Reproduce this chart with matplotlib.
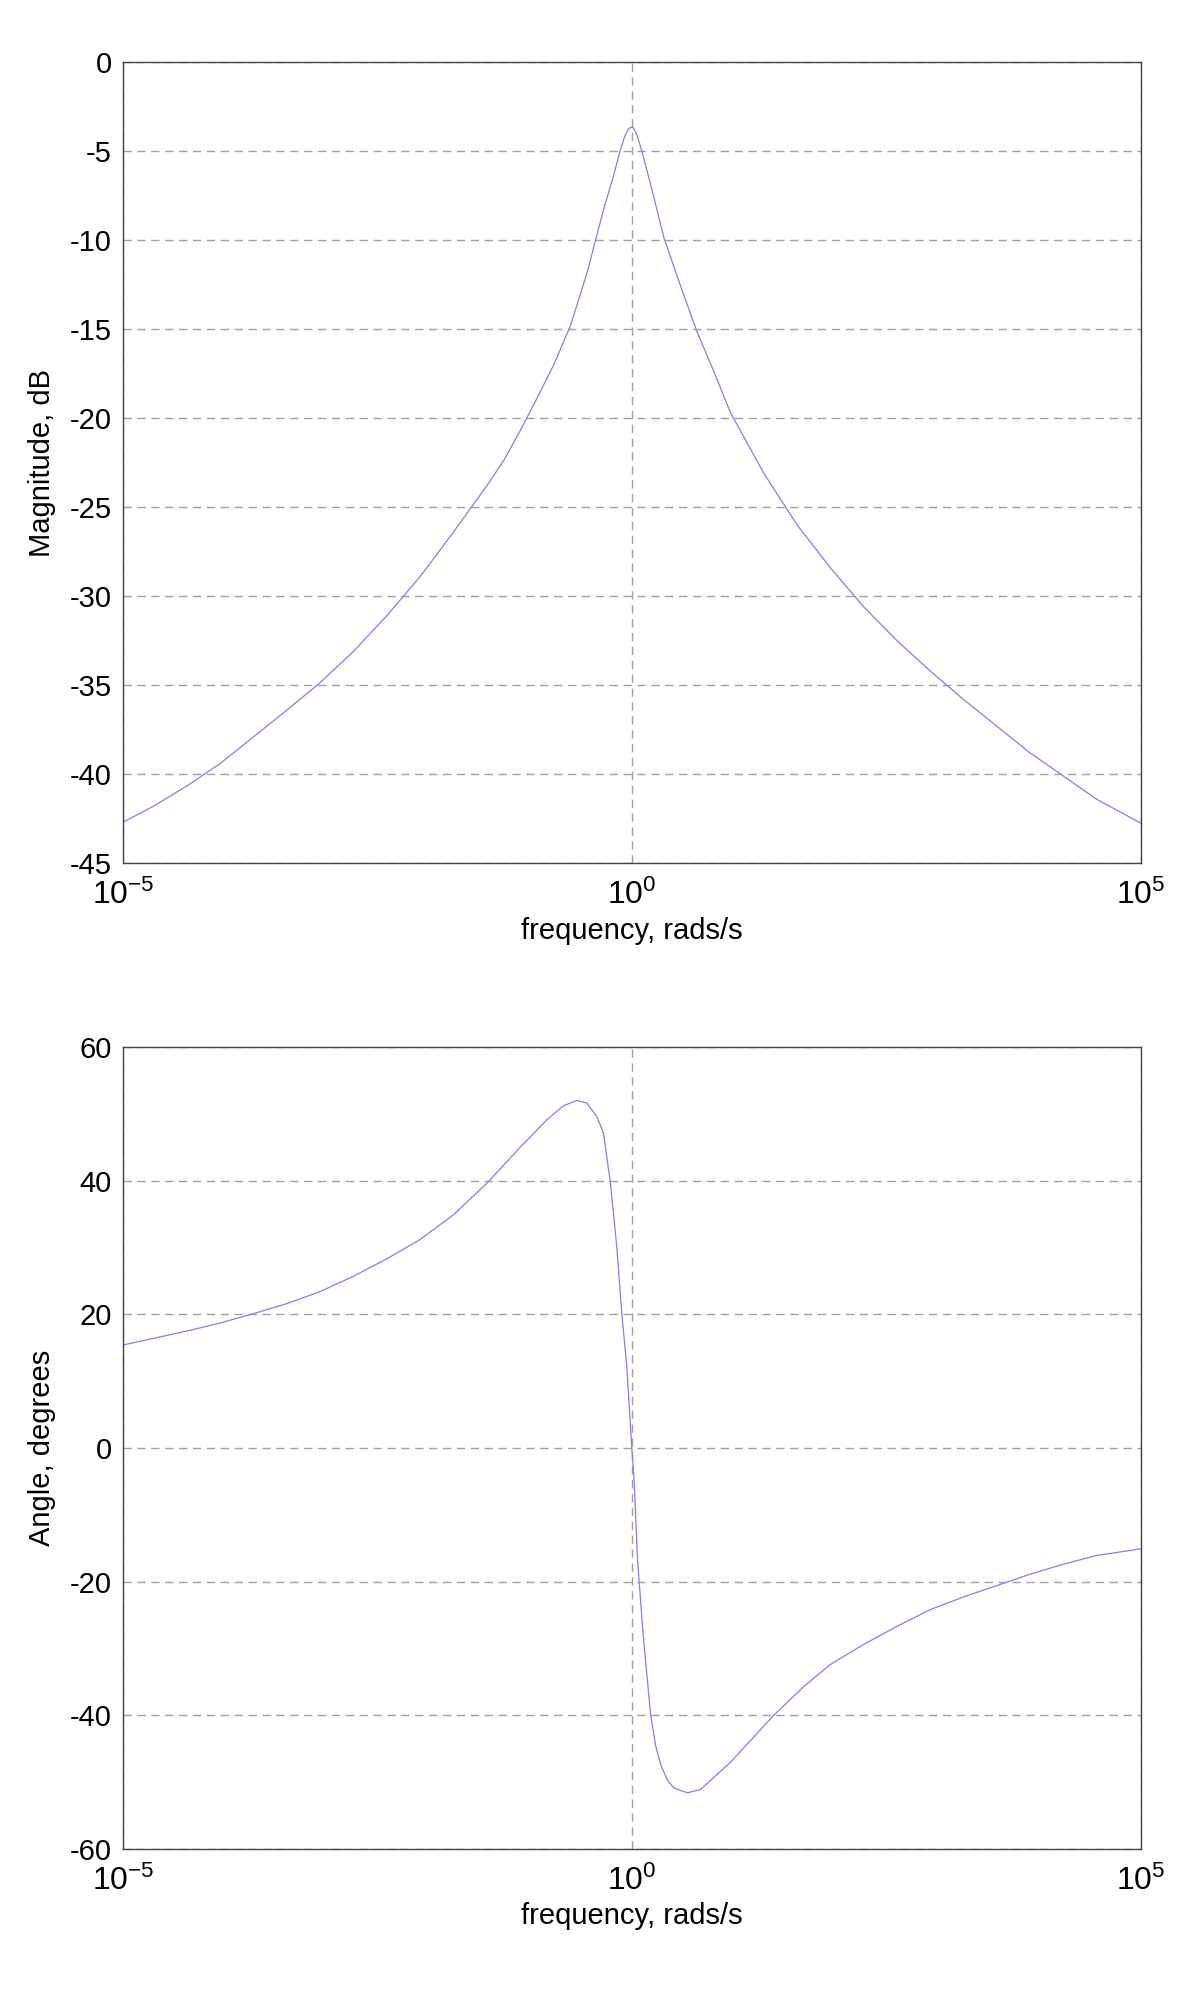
import matplotlib
matplotlib.use("Agg")
import matplotlib.pyplot as plt
import numpy as np

plt.rcParams["font.family"] = ["Liberation Sans", "DejaVu Sans"]
plt.rcParams["mathtext.fontset"] = "custom"
plt.rcParams["mathtext.rm"] = "Liberation Sans"
plt.rcParams["mathtext.it"] = "Liberation Sans"

# magnitude response (log10 of frequency, dB)
mag_logf = [-5.0, -4.699, -4.371, -4.044, -3.716, -3.389, -3.062, -2.734, -2.407, -2.079,
            -1.752, -1.424, -1.26, -1.096, -0.933, -0.766, -0.602, -0.438, -0.278, -0.18,
            -0.115, -0.066, -0.035, -0.01, 0.015, 0.04, 0.07, 0.098, 0.186, 0.317,
            0.48, 0.644, 0.807, 0.97, 1.297, 1.624, 1.95, 2.278, 2.605, 2.931,
            3.258, 3.585, 3.912, 4.239, 4.565, 5.0]
mag_db = [-42.7, -41.8, -40.66, -39.4, -37.9, -36.4, -34.86, -33.1, -31.1, -28.9,
          -26.4, -23.8, -22.4, -20.7, -18.9, -17.0, -14.8, -11.8, -8.3, -6.4,
          -5.0, -4.12, -3.78, -3.67, -3.7, -3.95, -4.45, -5.0, -6.9, -9.9,
          -12.6, -15.2, -17.4, -19.7, -23.1, -26.0, -28.4, -30.6, -32.5, -34.2,
          -35.8, -37.3, -38.8, -40.1, -41.4, -42.75]

# phase response (log10 of frequency, degrees)
ph_logf = [-5.0, -4.699, -4.371, -4.044, -3.716, -3.389, -3.062, -2.734, -2.407, -2.079,
           -1.752, -1.424, -1.096, -0.835, -0.671, -0.54, -0.442, -0.344, -0.278, -0.229,
           -0.213, -0.147, -0.098, -0.049, 0.0, 0.023, 0.056, 0.105, 0.137, 0.186,
           0.235, 0.284, 0.35, 0.415, 0.546, 0.676, 0.971, 1.395, 1.69, 1.951,
           2.278, 2.605, 2.931, 3.258, 3.585, 3.912, 4.239, 4.565, 5.0]
ph_deg = [15.4, 16.4, 17.5, 18.7, 20.1, 21.6, 23.4, 25.7, 28.3, 31.2,
          34.9, 39.6, 45.0, 49.1, 51.2, 52.0, 51.6, 49.6, 47.1, 41.7,
          40.1, 30.0, 20.1, 12.1, 0.0, -5.0, -16.6, -26.7, -32.2, -40.0,
          -44.6, -47.4, -49.7, -50.9, -51.6, -51.1, -47.0, -40.0, -35.7, -32.4,
          -29.4, -26.7, -24.2, -22.3, -20.6, -18.9, -17.4, -16.1, -15.1]

x_ticks = [1e-5, 1e0, 1e5]
x_ticklabels = [r"$\mathregular{10^{-5}}$", r"$\mathregular{10^{0}}$", r"$\mathregular{10^{5}}$"]
mag_yticks = list(range(-45, 1, 5))
ph_yticks = list(range(-60, 61, 20))

LINE = "#7f7ff2"
GRID = "#a0a0a0"
FS = 21

fig = plt.figure(figsize=(12, 19.98), dpi=100)
ax1 = fig.add_axes([0.1025, 0.568, 0.848, 0.401])
ax2 = fig.add_axes([0.1025, 0.0746, 0.848, 0.4014])


def style(ax, yticks, ylim, ylabel):
    ax.set_xscale("log")
    ax.set_xlim(1e-5, 1e5)
    ax.set_ylim(*ylim)
    ax.set_xticks(x_ticks)
    ax.set_xticklabels(x_ticklabels)
    ax.xaxis.set_minor_locator(matplotlib.ticker.NullLocator())
    ax.set_yticks(yticks)
    ax.set_yticklabels([str(v) for v in yticks])
    ax.tick_params(axis="both", length=0, labelsize=FS)
    ax.tick_params(axis="x", labelsize=FS + 2, pad=12)
    ax.tick_params(axis="y", pad=8)
    ax.grid(True, color=GRID, linestyle=(0, (6, 4)), linewidth=1.0)
    ax.set_axisbelow(True)
    for s in ax.spines.values():
        s.set_color("#444444")
        s.set_linewidth(1.0)
    ax.set_xlabel("frequency, rads/s", fontsize=FS, labelpad=4)
    ax.set_ylabel(ylabel, fontsize=FS, labelpad=10)


ax1.plot(10 ** np.array(mag_logf), mag_db, color=LINE, linewidth=0.9)
style(ax1, mag_yticks, (-45, 0), "Magnitude, dB")

ax2.plot(10 ** np.array(ph_logf), ph_deg, color=LINE, linewidth=0.9)
style(ax2, ph_yticks, (-60, 60), "Angle, degrees")

fig.savefig("out.png", dpi=100)
